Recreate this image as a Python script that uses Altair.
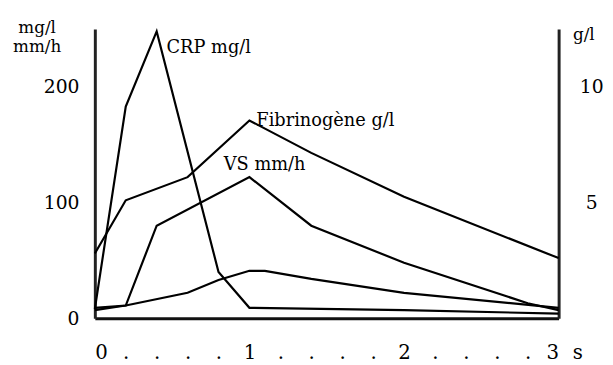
import altair as alt
import pandas as pd

# --- data ---
x_crp = [0, 0.2, 0.4, 0.8, 1.0, 2.0, 3.0]
crp = [8, 183, 248, 40, 9, 7, 4]                 # mg/l (left axis)

x_vs = [0, 0.2, 0.4, 1.0, 1.4, 2.0, 2.8, 3.0]
vs = [9, 11, 80, 122, 80, 48, 13, 7]             # mm/h (left axis)

x_other = [0, 0.2, 0.6, 0.8, 1.0, 1.1, 1.4, 2.0, 3.0]
other = [7, 11, 22, 33, 41, 41, 34, 22, 9]       # unlabeled curve (left axis)

x_fib = [0, 0.2, 0.6, 1.0, 1.4, 2.0, 3.0]
fib = [2.8, 5.1, 6.1, 8.55, 7.15, 5.25, 2.6]     # g/l (right axis)

left_ticks = [0, 100, 200]
right_ticks = [5, 10]
x_ticks = [i / 5 for i in range(16)]

FONT = "DejaVu Serif"

left_df = pd.concat([
    pd.DataFrame({"x": x_crp, "v": crp, "series": "CRP mg/l"}),
    pd.DataFrame({"x": x_vs, "v": vs, "series": "VS mm/h"}),
    pd.DataFrame({"x": x_other, "v": other, "series": "autre"}),
])
fib_df = pd.DataFrame({"x": x_fib, "v": fib, "series": "Fibrinogène g/l"})


def peak(xs, vs_, label):
    i = max(range(len(vs_)), key=lambda k: vs_[k])
    return pd.DataFrame({"x": [xs[i]], "v": [vs_[i]], "label": [label]})


xscale = alt.Scale(domain=[0, 3], nice=False, zero=False)
lscale = alt.Scale(domain=[0, 250], nice=False)
rscale = alt.Scale(domain=[0, 12.5], nice=False)

xaxis = alt.Axis(
    values=x_ticks,
    labelExpr="abs(datum.value - round(datum.value)) < 0.01 ? format(datum.value, 'd') : '.'",
    ticks=False, grid=False,
    domainColor="#111", domainWidth=3,
    labelFont=FONT, labelFontSize=20, labelColor="black",
    labelPadding=25, labelBaseline="top", labelFlush=True, labelOverlap=False,
    title="s", titleX=489, titleY=25, titleBaseline="top", titleAlign="center",
    titleFont=FONT, titleFontSize=20, titleFontWeight="normal", titleAngle=0,
    titleColor="black",
)
laxis = alt.Axis(
    values=left_ticks, ticks=False, grid=False,
    domainColor="#222", domainWidth=3,
    labelFont=FONT, labelFontSize=19, labelColor="black", labelPadding=16,
    title=["mg/l", "mm/h"], titleAngle=0, titleX=-59, titleY=-10,
    titleAlign="center", titleBaseline="top", titleLineHeight=20,
    titleFont=FONT, titleFontSize=17, titleFontWeight="normal", titleColor="black",
)
raxis = alt.Axis(
    orient="right", values=right_ticks, ticks=False, grid=False,
    domainColor="#222", domainWidth=3,
    labelFont=FONT, labelFontSize=19, labelColor="black",
    labelAlign="center", labelPadding=33,
    title="g/l", titleAngle=0, titleX=14, titleY=-2,
    titleAlign="left", titleBaseline="top",
    titleFont=FONT, titleFontSize=17, titleFontWeight="normal", titleColor="black",
)

X = alt.X("x:Q", scale=xscale, axis=xaxis)
YL = alt.Y("v:Q", scale=lscale, axis=laxis)
YR = alt.Y("v:Q", scale=rscale, axis=raxis)

left_lines = alt.Chart(left_df).mark_line(color="black", strokeWidth=2.2).encode(
    x=X, y=YL, detail="series:N"
)
crp_text = alt.Chart(peak(x_crp, crp, "CRP mg/l")).mark_text(
    align="left", baseline="alphabetic", dx=10, dy=22,
    font=FONT, fontSize=18, color="black"
).encode(x=X, y=YL, text="label:N")
vs_text = alt.Chart(peak(x_vs, vs, "VS mm/h")).mark_text(
    align="left", baseline="alphabetic", dx=-26, dy=-7,
    font=FONT, fontSize=18, color="black"
).encode(x=X, y=YL, text="label:N")

fib_line = alt.Chart(fib_df).mark_line(color="black", strokeWidth=2.2).encode(
    x=X, y=YR
)
fib_text = alt.Chart(peak(x_fib, fib, "Fibrinogène g/l")).mark_text(
    align="left", baseline="alphabetic", dx=7, dy=6,
    font=FONT, fontSize=18, color="black"
).encode(x=X, y=YR, text="label:N")

left = alt.layer(left_lines, crp_text, vs_text)
right = alt.layer(fib_line, fib_text)

chart = alt.layer(left, right).resolve_scale(y="independent").properties(
    width=470, height=293,
    autosize=alt.AutoSizeParams(type="none"),
    padding={"left": 88, "top": 19, "right": 47, "bottom": 46},
    background="white",
).configure_view(strokeWidth=0)

chart.save("out.html", embed_options={"renderer": "svg", "actions": False})
